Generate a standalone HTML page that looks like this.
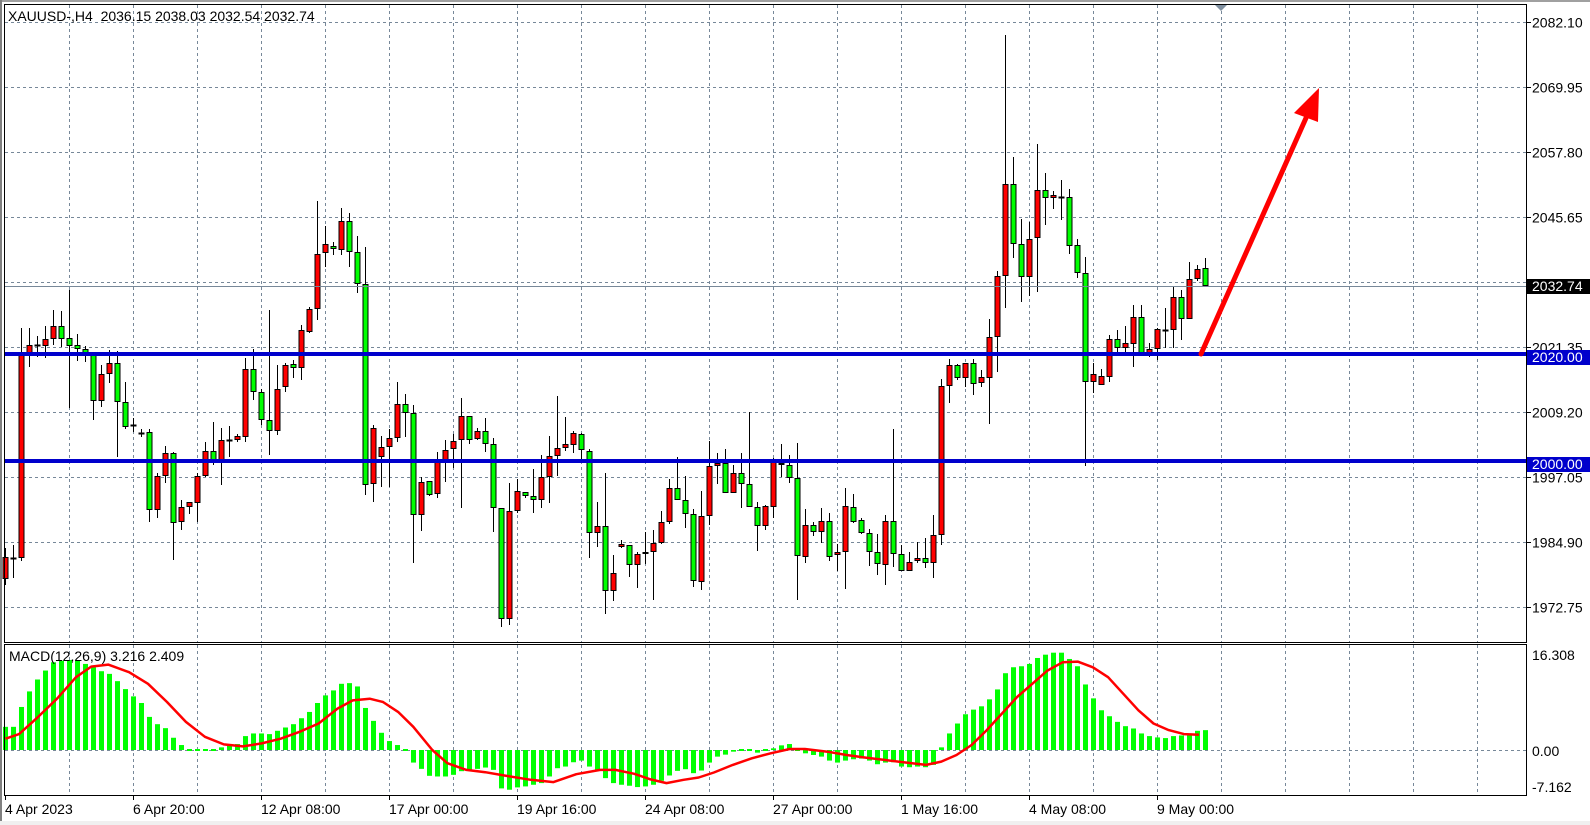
<!DOCTYPE html>
<html><head><meta charset="utf-8"><style>
html,body{margin:0;padding:0;background:#fff;width:1590px;height:825px;overflow:hidden}
svg{display:block}
text{font-family:"Liberation Sans",sans-serif;font-size:14px;fill:#000}
</style></head><body>
<svg id="s" width="1590" height="825" xmlns="http://www.w3.org/2000/svg">
<rect x="0" y="0" width="1590" height="825" fill="#fff"/>
<rect x="0" y="0" width="1590" height="2" fill="#a0a0a0"/>
<rect x="0" y="0" width="2" height="825" fill="#808080"/>
<rect x="0" y="821" width="1590" height="4" fill="#f0f0f0"/>
<g id="grid"></g>
<g id="candles"></g>
<g id="macd"></g>
<line x1="4" y1="286.5" x2="1527" y2="286.5" stroke="#778899" stroke-width="1"/>
<rect x="4" y="352" width="1523" height="4" fill="#0000cc"/>
<rect x="4" y="459" width="1523" height="4" fill="#0000cc"/>
<line x1="1201" y1="354" x2="1306" y2="118" stroke="#ff0000" stroke-width="5" stroke-linecap="round"/>
<polygon points="1319,88 1294,113 1318,122" fill="#ff0000"/>
<rect x="4.5" y="4.5" width="1522" height="638" fill="none" stroke="#000" stroke-width="1"/>
<rect x="4.5" y="644.5" width="1522" height="151" fill="none" stroke="#000" stroke-width="1"/>
<polygon points="1215,5 1227,5 1221,11" fill="#8090a0"/>
<text x="8" y="21">XAUUSD-,H4 &#160;2036.15 2038.03 2032.54 2032.74</text>
<text x="9" y="661">MACD(12,26,9) 3.216 2.409</text>
<g id="axis"></g>
</svg>
<script>
var NS="http://www.w3.org/2000/svg";
function el(p,t,a,txt){var e=document.createElementNS(NS,t);for(var k in a)e.setAttribute(k,a[k]);if(txt!==undefined)e.textContent=txt;document.getElementById(p).appendChild(e);return e;}
for(var k=1;k<=23;k++){var x=5.5+64*k;
 el('grid','line',{x1:x,y1:5,x2:x,y2:642,stroke:'#778899','stroke-dasharray':'3,3'});
 el('grid','line',{x1:x,y1:645,x2:x,y2:795,stroke:'#778899','stroke-dasharray':'3,3'});}
var plab=["2082.10","2069.95","2057.80","2045.65","2033.50","2021.35","2009.20","1997.05","1984.90","1972.75"];
for(var k=0;k<10;k++){var y=22.5+65*k;
 el('grid','line',{x1:5,y1:y,x2:1527,y2:y,stroke:'#778899','stroke-dasharray':'3,3'});
 el('axis','line',{x1:1527,y1:y,x2:1531,y2:y,stroke:'#000'});
 if(k!=4) el('axis','text',{x:1532,y:y+5},plab[k]);}
el('grid','line',{x1:5,y1:750.5,x2:1527,y2:750.5,stroke:'#778899','stroke-dasharray':'3,3'});
el('axis','rect',{x:1527,y:279,width:63,height:15,fill:'#000'});
el('axis','text',{x:1532,y:291,style:'fill:#fff'},'2032.74');
el('axis','rect',{x:1527,y:350,width:63,height:15,fill:'#0000cc'});
el('axis','text',{x:1532,y:362,style:'fill:#fff'},'2020.00');
el('axis','rect',{x:1527,y:457,width:63,height:15,fill:'#0000cc'});
el('axis','text',{x:1532,y:469,style:'fill:#fff'},'2000.00');
el('axis','text',{x:1532,y:660},'16.308');
el('axis','text',{x:1532,y:756},'0.00');
el('axis','text',{x:1532,y:792},'-7.162');
var tl=["4 Apr 2023","6 Apr 20:00","12 Apr 08:00","17 Apr 00:00","19 Apr 16:00","24 Apr 08:00","27 Apr 00:00","1 May 16:00","4 May 08:00","9 May 00:00"];
for(var k=0;k<10;k++){var x=5+128*k;el('axis','text',{x:x,y:814},tl[k]);el('axis','line',{x1:x+0.5,y1:796,x2:x+0.5,y2:800,stroke:'#000'});}
var z1=[["R",1100,1168,1075,1185],["D",1103,1103,1065,1163],["R",490,1105,413,1113],["R",466,490,413,530],["D",464,464,437,500],["R",447,469,408,505],["R",409,447,360,465],["G",409,447,363,470],["G",445,469,300,655],["G",466,478,432,512],["G",476,490,468,517],["G",490,633,490,690],["R",553,633,525,650],["R",520,553,480,580],["G",520,637,483,802],["G",637,712,577,718],["D",706,706,685,725],["D",728,728,718,740],["G",727,960,718,995],["R",857,960,850,985],["R",790,857,768,880],["G",790,1000,785,1110],["R",952,997,930,1020],["R",937,952,937,972],["R",857,940,848,997],["R",784,857,755,860],["G",784,820,695,825],["R",750,820,713,885],["D",750,750,707,800],["R",738,750,733,755],["R",538,740,503,755],["G",538,607,478,630],["G",607,690,597,705],["G",690,723,360,795],["R",598,723,525,735],["R",525,592,520,605],["G",522,535,510,565],["R",420,535,405,570],["R",357,425,350,430],["R",193,357,33,390],["R",163,190,108,230],["G",167,178,157,195],["R",93,180,53,195],["G",93,187,70,230],["G",187,283,137,308],["G",283,885,170,915],["R",715,883,705,937],["R",770,800,737,890],["R",745,770,717,890],["R",643,745,575,757]];
var z2=[["G",73,100,43,170],["G",100,406,75,548],["R",307,406,292,452],["G",304,345,304,348],["R",247,343,215,355],["R",211,247,180,305],["R",184,208,163,263],["R",109,181,55,385],["G",109,181,109,193],["R",154,178,145,181],["G",154,193,115,215],["G",193,385,175,455],["G",385,718,385,740],["R",394,718,310,735],["R",334,394,298,400],["G",337,349,337,355],["G",349,361,268,400],["R",292,361,226,385],["R",229,292,168,370],["R",205,229,48,287],["R",193,205,110,212],["R",160,196,153,220],["G",163,211,160,250],["G",214,460,208,535],["R",439,460,367,502],["G",439,634,280,703],["R",580,634,526,664],["R",493,502,481,505],["G",496,556,496,592],["R",523,556,517,625],["R",517,523,457,553],["R",490,517,451,661],["R",427,490,394,493],["R",325,427,298,433],["G",325,361,232,361],["G",361,403,289,445],["G",403,604,388,620],["R",409,607,334,631],["R",259,409,184,436],["R",250,259,220,313],["G",250,340,208,340],["R",280,340,256,340],["G",280,313,220,385],["G",313,382,97,382],["G",382,439,367,514],["R",379,439,376,451],["R",247,382,235,415],["G",250,256,193,292],["G",256,295,226,310],["G",295,529,190,661]];
var z3=[["R",1365,1450,1322,1468],["G",1365,1383,1357,1395],["R",1355,1383,1318,1413],["G",1355,1450,1333,1462],["R",1437,1447,1415,1490],["R",1312,1437,1265,1537],["G",1315,1357,1280,1360],["G",1350,1385,1345,1388],["G",1385,1437,1375,1475],["G",1437,1470,1390,1500],["R",1353,1472,1338,1527],["G",1353,1442,1105,1478],["G",1442,1488,1420,1490],["R",1465,1488,1437,1490],["R",1453,1463,1410,1467],["G",1453,1467,1400,1480],["R",1392,1467,1338,1508],["R",988,1392,970,1420],["R",933,988,915,1035],["G",933,967,930,972],["R",927,967,927,990],["G",927,983,915,1013],["R",965,980,945,990],["R",855,967,808,1090],["R",690,855,677,950],["R",443,690,40,778],["G",443,605,368,642],["G",605,693,538,760],["R",590,693,545,745],["R",457,588,333,733],["G",457,480,413,553],["R",473,480,460,510],["D",476,476,430,540],["G",477,610,455,630],["G",608,683,592,695],["G",683,977,640,1205],["R",955,977,925,1007],["R",962,985,943,987],["R",860,963,850,978],["G",860,885,838,900],["R",873,885,827,898],["R",803,875,770,937],["G",803,903,770,903],["R",888,898,872,910],["R",835,888,832,918],["D",837,837,778,885],["R",747,838,718,885],["G",747,806,730,865],["R",698,806,652,806],["R",672,700,660,705]];
var C=[];
z1.forEach(function(d){C.push(d.map(function(v,j){return j?190+v/3:v;}));});
z2.forEach(function(d){C.push(d.map(function(v,j){return j?380+v/3:v;}));});
z3.forEach(function(d){C.push(d.map(function(v,j){return j?22.5+(v-5)*0.3696:v;}));});
C.push(["G",268.3,286,258.3,287.3]);
C.forEach(function(d,i){var cx=Math.round(5+8*i)+0.5;
 el('candles','line',{x1:cx,y1:Math.round(d[3]),x2:cx,y2:Math.round(d[4]),stroke:'#000'});
 var t=Math.round(d[1]),b=Math.round(d[2]);
 if(d[0]=="D"||b-t<2){el('candles','line',{x1:cx-3,y1:t+0.5,x2:cx+3,y2:t+0.5,stroke:'#000','stroke-width':2});}
 else el('candles','rect',{x:cx-2.5,y:t+0.5,width:5,height:b-t-1,fill:d[0]=="R"?'#ff0000':'#00ff00',stroke:'#000'});
});
var h=[290,290,230,183,147,120,95,90,88,90,100,110,122,130,152,176,198,218,260,282,294,323,345,357,362,358,357,352,347,342,318,310,310,312,302,292,282,264,245,218,195,180,160,158,168,233,272,308,333,345,357,398,417,438,440,440,435,424,420,417,413,420,476,480,473,470,465,460,440,415,410,397,392,410,420,
445,460,465,468,472,470,465,453,437,423,418,430,422,398,380,374,365,362,363,368,362,355,346,342,362,370,375,380,392,398,392,388,386,392,403,398,397,410,412,410,412,405,352,310,280,252,238,228,207,177,128,110,107,100,82,72,66,66,85,107,162,204,240,258,275,288,295,310,318,322,324,318,316,310,302,300];
h.forEach(function(v,i){var y=750+(v-360)*0.331;var x=Math.round(5+8*i)-2;
 var t=Math.min(y,750),bt=Math.max(y,750);if(bt-t<1){t=749;bt=751;}
 el('macd','rect',{x:x,y:t,width:5,height:bt-t,fill:'#00ff00'});});
var s5=[[14,326],[50,312],[100,260],[150,205],[200,140],[240,108],[285,102],[340,125],[390,160],[440,215],[490,275],[540,320],[590,343],[640,349],[690,340],[740,326],[790,305],[840,280],[890,235],[930,210],[975,205],[1010,215],[1050,245],[1090,290],[1140,360],[1180,400],[1230,420],[1280,427],[1330,437],[1400,450],[1460,457],[1520,433]];
var s6=[[0,420],[40,420],[90,432],[130,448],[175,460],[220,450],[260,443],[300,428],[350,405],[400,385],[450,370],[500,357],[540,357],[600,365],[650,375],[700,383],[750,390],[800,397],[860,405],[900,395],[940,375],[980,345],[1020,300],[1060,250],[1100,200],[1140,160],[1180,120],[1220,95],[1260,93],[1300,110],[1340,140],[1380,190],[1420,240],[1460,280],[1500,300],[1540,312],[1580,314]];
var pts=[];
s5.forEach(function(p){pts.push((5.5+(p[0]-14)*0.379).toFixed(1)+","+(750+(p[1]-360)*0.331).toFixed(1));});
s6.forEach(function(p){pts.push((605.5+(p[0]-14)*0.379).toFixed(1)+","+(750+(p[1]-360)*0.331).toFixed(1));});
el('macd','polyline',{points:pts.join(" "),fill:'none',stroke:'#ff0000','stroke-width':2.5,'stroke-linejoin':'round'});
</script>
</body></html>
